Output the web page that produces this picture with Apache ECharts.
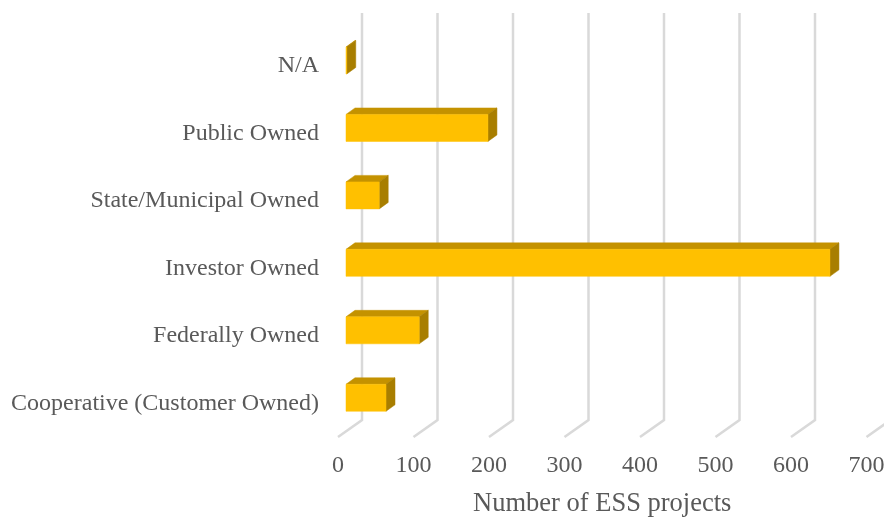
<!DOCTYPE html>
<html>
<head>
<meta charset="utf-8">
<style>
  html, body { margin: 0; padding: 0; background: #fff; }
  #main { width: 884px; height: 520px; }
</style>
<script src="https://cdn.jsdelivr.net/npm/echarts@6/dist/echarts.min.js"></script>
</head>
<body>
<div id="main"></div>
<script>
// bottom to top, same order as the category axis
const categories = ['Cooperative (Customer Owned)', 'Federally Owned', 'Investor Owned', 'State/Municipal Owned', 'Public Owned', 'N/A']
const projects = [53, 97, 641, 44, 188, 1]
const xTicks = [0, 100, 200, 300, 400, 500, 600, 700]

const serif = '"Liberation Serif", "Times New Roman", serif'
const textColor = '#595959'

// 3D look: the floor runs back 24px right, 17px up
const floorDx = 24
const floorDy = 17
const wallTop = 13

function renderGridLine (params, api) {
  const p = api.coord([api.value(0), 0])
  const rect = params.coordSys
  const bottom = rect.y + rect.height
  const x = p[0]
  return {
    type: 'polyline',
    silent: true,
    shape: { points: [[x, bottom], [x + floorDx, bottom - floorDy], [x + floorDx, wallTop]] },
    style: { fill: 'none', stroke: '#d9d9d9', lineWidth: 2.5 }
  }
}

function renderBar (params, api) {
  const end = api.coord([api.value(0), api.value(1)])
  const start = api.coord([0, api.value(1)])
  // bar sits in the middle of the floor depth
  const x0 = start[0] + 8
  const x1 = end[0] + 8
  const top = end[1] - 19
  const bottom = end[1] + 8
  const dx = 9
  const dy = 6.5
  const face = (points, fill) => ({
    type: 'polygon',
    shape: { points },
    style: { fill, stroke: fill, lineWidth: 0.5 }
  })
  return {
    type: 'group',
    children: [
      face([[x0, top], [x1, top], [x1 + dx, top - dy], [x0 + dx, top - dy]], '#c49200'),
      face([[x1, top], [x1 + dx, top - dy], [x1 + dx, bottom - dy], [x1, bottom]], '#a87e00'),
      face([[x0, top], [x1, top], [x1, bottom], [x0, bottom]], '#ffc000')
    ]
  }
}

const chart = echarts.init(document.getElementById('main'))
chart.setOption({
  animation: false,
  backgroundColor: '#fff',
  grid: { left: 338, right: 17.5, top: 32.25, bottom: 83, outerBoundsMode: 'none' },
  xAxis: {
    type: 'value',
    min: 0,
    max: 700,
    interval: 100,
    name: 'Number of ESS projects',
    nameLocation: 'middle',
    nameGap: 54,
    nameTextStyle: { fontFamily: serif, fontSize: 26.5, color: textColor },
    axisLine: { show: false },
    axisTick: { show: false },
    splitLine: { show: false },
    axisLabel: { fontFamily: serif, fontSize: 24, color: textColor, margin: 17, hideOverlap: false }
  },
  yAxis: {
    type: 'category',
    data: categories,
    axisLine: { show: false },
    axisTick: { show: false },
    axisLabel: { fontFamily: serif, fontSize: 24, color: textColor, margin: 19, padding: [2, 0, 0, 0] }
  },
  series: [
    {
      type: 'custom',
      clip: false,
      silent: true,
      renderItem: renderGridLine,
      data: xTicks.map(t => [t, 0]),
      z: 1
    },
    {
      type: 'custom',
      clip: false,
      renderItem: renderBar,
      data: projects.map((v, i) => [v, i]),
      z: 2
    }
  ]
})
</script>
</body>
</html>
